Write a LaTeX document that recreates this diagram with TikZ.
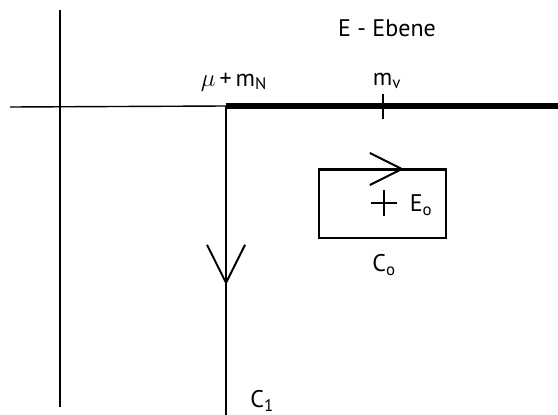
\documentclass[tikz,border=0pt]{standalone}
\usepackage{fontspec}
\setmainfont{PT Sans}
\usetikzlibrary{arrows.meta,decorations.markings,positioning,calc}

\begin{document}
\begin{tikzpicture}[
    x=1pt, y=-1pt,
    axis/.style={line width=1.4pt},
    cut/.style={line width=6pt},
    contour/.style={line width=2pt},
    lbl/.style={font=\fontsize{24}{28}\selectfont, inner sep=0pt},
    midarrow/.style 2 args={decoration={markings, mark=at position #1 with {\arrow{Straight Barb[length=#2pt, width=#2pt, line width=2pt]}}}, postaction={decorate}}
]
\useasboundingbox (0,0) rectangle (558,415);
% axes
\coordinate (ytop) at (60,10);
\coordinate (ybot) at (60,407);
\coordinate (xleft) at (10,107);
\coordinate (branch) at (226,106);
\coordinate (xright) at (558,106);
\draw[axis] (ytop) -- (ybot);
\draw[axis] (xleft) -- (branch);
% cut
\draw[cut] (branch) -- (xright);
\coordinate (mvtop) at (383,94);
\coordinate (mvbot) at (383,119);
\draw[contour] (mvtop) -- (mvbot);
% contour C1
\coordinate (c1end) at (226,415);
\draw[contour, midarrow={179pt}{38}] (branch) -- (c1end);
% contour C0 and the pole
\node[draw, contour, minimum width=127pt, minimum height=68pt, inner sep=0pt] (c0) at (382.5,204) {};
\draw[contour, midarrow={86pt}{32}] (c0.north west) -- (c0.north east);
\coordinate (pole) at (384,203);
\draw[contour] ($(pole)+(-13,0)$) -- ($(pole)+(13,0)$);
\draw[contour] ($(pole)+(0,-13)$) -- ($(pole)+(0,13)$);
% labels
\node[lbl] (ebene) at (387,28) {E - Ebene};
\node[lbl] (schwelle) at (234,82) {$\mu$\,+\,m\textsubscript{N}};
\node[lbl] (mv) at (387,81) {m\textsubscript{v}};
\node[lbl] (E0) at (421,205) {E\textsubscript{o}};
\node[lbl] (C0) at (384,265) {C\textsubscript{o}};
\node[lbl] (C1) at (262,401) {C\textsubscript{1}};
\end{tikzpicture}
\end{document}
